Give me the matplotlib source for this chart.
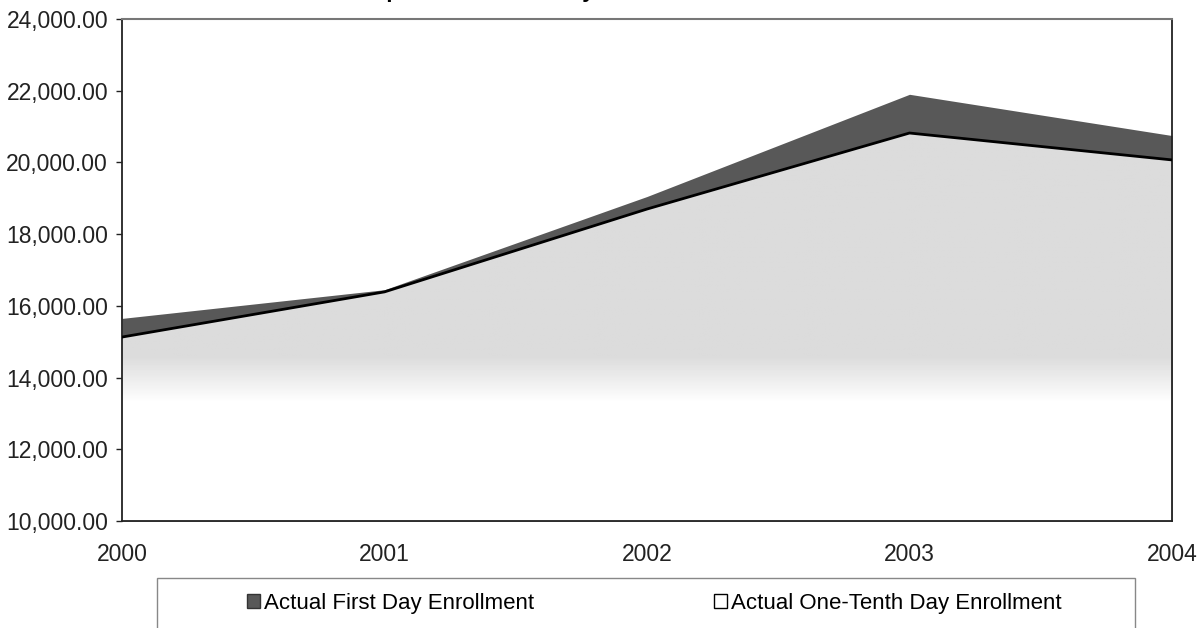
import numpy as np
import matplotlib
matplotlib.use("Agg")
import matplotlib.pyplot as plt
from matplotlib.patches import Patch, Rectangle
from matplotlib.ticker import FuncFormatter

plt.rcParams['font.family'] = ['Liberation Sans', 'DejaVu Sans']

years = [2000, 2001, 2002, 2003, 2004]
first_day = [15650, 16450, 19050, 21900, 20750]
tenth_day = [15130, 16390, 18700, 20820, 20070]
title = "Comparison of First Day Enrollment"
label_first = "Actual First Day Enrollment"
label_tenth = "Actual One-Tenth Day Enrollment"

fig = plt.figure(figsize=(11.97, 6.28), dpi=100)
ax = fig.add_axes([122/1197, 1-521/628, (1172-122)/1197, (521-19)/628])

ymin, ymax = 10000, 24000
ax.set_xlim(years[0], years[-1])
ax.set_ylim(ymin, ymax)

# dark band: first day area behind
ax.fill_between(years, ymin, first_day, color='#585858', lw=0, zorder=1)

# one-tenth day area with grey-to-white gradient
poly = ax.fill_between(years, ymin, tenth_day, color='none', lw=0, zorder=2)
yy = np.linspace(ymax, ymin, 300)
shade = np.clip((yy - 13300) / (14600 - 13300), 0, 1)
grad = 1.0 - 0.14 * shade
img = np.repeat(grad[:, None], 10, axis=1)
im = ax.imshow(img, cmap='gray', vmin=0, vmax=1, aspect='auto',
               extent=[years[0], years[-1], ymin, ymax], zorder=2)
im.set_clip_path(poly.get_paths()[0], transform=ax.transData)
ax.plot(years, tenth_day, color='black', lw=2, zorder=3)

ax.set_xticks(years)
ax.set_yticks(np.arange(ymin, ymax + 1, 2000))
ax.yaxis.set_major_formatter(FuncFormatter(lambda v, p: f"{v:,.2f}"))
ax.tick_params(axis='y', length=4, width=1, pad=6, labelsize=16.5, colors='#222222')
ax.tick_params(axis='x', length=0, pad=16, labelsize=16.5, colors='#222222')
for s in ['left', 'bottom', 'right']:
    ax.spines[s].set_color('#222222')
    ax.spines[s].set_linewidth(1.3)
ax.spines['top'].set_color('#777777')
ax.spines['top'].set_linewidth(1.5)

# title mostly cut off at the top edge
fig.text(527/1197, 1 + 2.5/628, title, ha='center', va='baseline',
         fontsize=16, fontweight='bold')

# legend box
fig.patches.append(Rectangle((157/1197, -0.02), (1135-157)/1197, 0.02 + 50/628,
                             transform=fig.transFigure, fill=False,
                             edgecolor='#888888', lw=1))
handles = [Patch(facecolor='#585858', edgecolor='#333333', label=label_first),
           Patch(facecolor='white', edgecolor='black', label=label_tenth)]
fig.legend(handles=handles, loc='center left', ncol=2, frameon=False,
           bbox_to_anchor=(236/1197, 1 - 603/628), fontsize=16,
           handlelength=0.6, handleheight=0.6, handletextpad=0.15,
           columnspacing=8.1, borderpad=0)

fig.savefig("out.png", dpi=100)
